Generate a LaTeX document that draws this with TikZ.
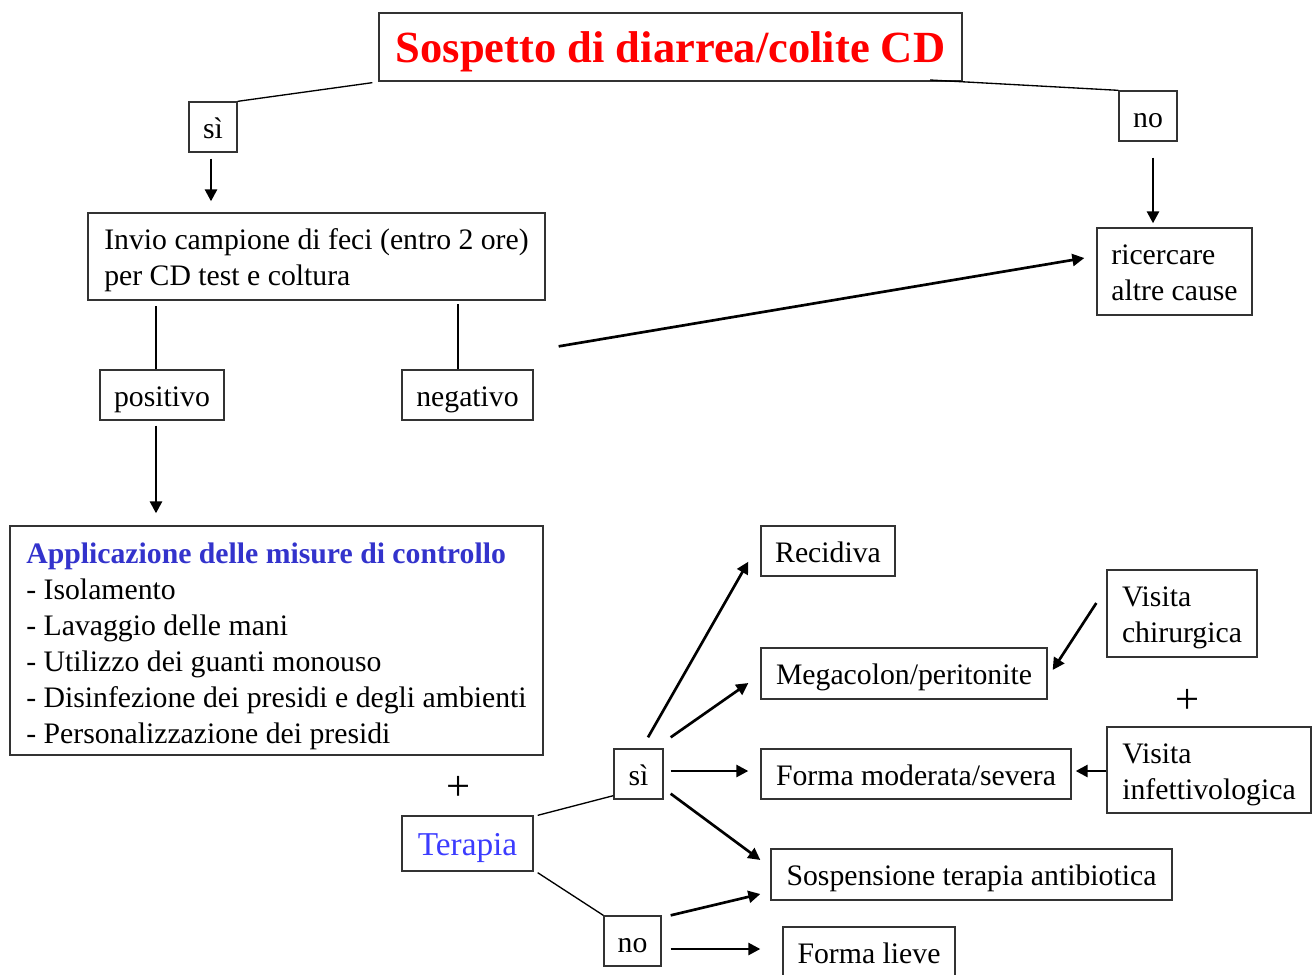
\documentclass[tikz,border=0pt]{standalone}
\usepackage{fontspec}
\setmainfont{Liberation Serif}
\usetikzlibrary{calc,arrows.meta}
\definecolor{titlered}{RGB}{255,0,0}
\definecolor{ctrlblue}{RGB}{51,51,204}
\definecolor{terblue}{RGB}{60,60,255}
\newcommand\bodyfont{\fontsize{22.3}{27}\selectfont}
\newcommand\multiline[1]{\begin{tabular}[b]{@{}l@{}}#1\end{tabular}}
\tikzset{
  box/.style={draw=black!80, line width=1pt, inner sep=0pt, font=\bodyfont, align=left,
    text height=18pt, text depth=1.5pt},
  twoline/.style={text height=44.5pt, text depth=1pt},
  wh/.style 2 args={minimum width=#1*0.75pt, minimum height=#2*0.75pt},
  thinline/.style={line width=1pt, black},
  arr/.style={line width=2pt, black, -{Triangle[length=9pt,width=9pt]}},
  plus/.style={font=\fontsize{32}{36}\selectfont, inner sep=0pt}
}
\begin{document}
\begin{tikzpicture}[x=0.75pt,y=-0.75pt]
\useasboundingbox (0,0) rectangle (1316,974);
% nodes
\node[box, wh={583}{68}, font=\fontsize{33.4}{40}\selectfont\bfseries, text=titlered, text height=26pt, text depth=2pt] (title) at (670.5,47) {Sospetto di diarrea/colite CD};
\node[box, wh={48}{50}] (si1) at (213,127) {sì};
\node[box, wh={58}{50}] (no1) at (1148,116) {no};
\node[box, wh={457}{87}, twoline] (invio) at (316.5,256.5) {\multiline{Invio campione di feci (entro 2 ore)\\per CD test e coltura}};
\node[box, wh={155}{87}, twoline] (ricercare) at (1174.5,271.5) {\multiline{ricercare\\altre cause}};
\node[box, wh={124}{50}] (pos) at (162,395) {positivo};
\node[box, wh={131}{50}] (neg) at (467.5,395) {negativo};
\node[box, wh={533}{229}, text height=154.75pt, text depth=1pt] (appl) at (276.5,640.5) {\multiline{{\color{ctrlblue}\bfseries Applicazione delle misure di controllo}\\- Isolamento\\- Lavaggio delle mani\\- Utilizzo dei guanti monouso\\- Disinfezione dei presidi e degli ambienti\\- Personalizzazione dei presidi}};
\node[plus] (plus2) at (459,788) {+};
\node[box, wh={131}{55}, font=\fontsize{25}{30}\selectfont, text=terblue, text height=19pt, text depth=1.75pt] (terapia) at (467.5,843.5) {Terapia};
\node[box, wh={49}{50}] (si2) at (638.5,774) {sì};
\node[box, wh={57}{50}] (no2) at (632.5,941) {no};
\node[box, wh={134}{50}] (recidiva) at (828,551) {Recidiva};
\node[box, wh={286}{51}] (mega) at (904,673.5) {Megacolon/peritonite};
\node[box, wh={310}{50}] (forma) at (916,774) {Forma moderata/severa};
\node[box, wh={401}{51}] (sosp) at (971.5,874.5) {Sospensione terapia antibiotica};
\node[box, wh={172}{51}] (lieve) at (869,952.5) {Forma lieve};
\node[box, wh={150}{87}, twoline] (vchir) at (1182,613.5) {\multiline{Visita\\chirurgica}};
\node[plus] (plus1) at (1188,701) {+};
\node[box, wh={204}{86}, twoline] (vinf) at (1209,770) {\multiline{Visita\\infettivologica}};
\coordinate (tno) at (930,80);
% connectors top
\draw[thinline] (si1.north east) -- ($(title.south west)+(-6,1)$);
\draw[thinline] (tno) -- (no1.north west);
\draw[arr] ($(si1.south)+(-2,6)$) -- ($(si1.south |- invio.north)+(-2,-11)$);
\draw[arr] ($(no1.south)+(5,16)$) -- ($(no1.south |- ricercare.north)+(5,-4)$);
\draw[thinline] ($(pos.north)+(-6,0)$) -- ($(pos.north |- invio.south)+(-6,5)$);
\draw[thinline] ($(neg.north)+(-9.5,0)$) -- ($(neg.north |- invio.south)+(-9.5,3)$);
\draw[arr] ($(neg.north east)+(25,-23)$) -- ($(ricercare.west)+(-12,-13.5)$);
\draw[arr] ($(pos.south)+(-6,5)$) -- ($(pos.south |- appl.north)+(-6,-12)$);
% therapy branch
\draw[thinline] ($(terapia.north east)+(4,0)$) -- ($(si2.south west)+(0,-4)$);
\draw[thinline] ($(terapia.south east)+(4,1)$) -- (no2.north west);
\draw[arr] ($(si2.north)+(9.5,-11)$) -- ($(recidiva.south west)+(-12,-15)$);
\draw[arr] ($(si2.north east)+(7,-11)$) -- ($(mega.west)+(-12,9.5)$);
\draw[arr] ($(si2.east)+(7,-3)$) -- ($(forma.west)+(-12,-3)$);
\draw[arr] ($(si2.south east)+(7,-6)$) -- ($(sosp.west)+(-10,-14.5)$);
\draw[arr] ($(no2.north east)+(9,0)$) -- ($(sosp.west)+(-10,19.5)$);
\draw[arr] ($(no2.east)+(9,8)$) -- ($(lieve.west)+(-22,-3.5)$);
\draw[arr] ($(vchir.west)+(-10,-10.5)$) -- ($(mega.east)+(5,-3.5)$);
\draw[arr] ($(vinf.west)+(0,1)$) -- ($(forma.east)+(4,-3)$);
\end{tikzpicture}
\end{document}
